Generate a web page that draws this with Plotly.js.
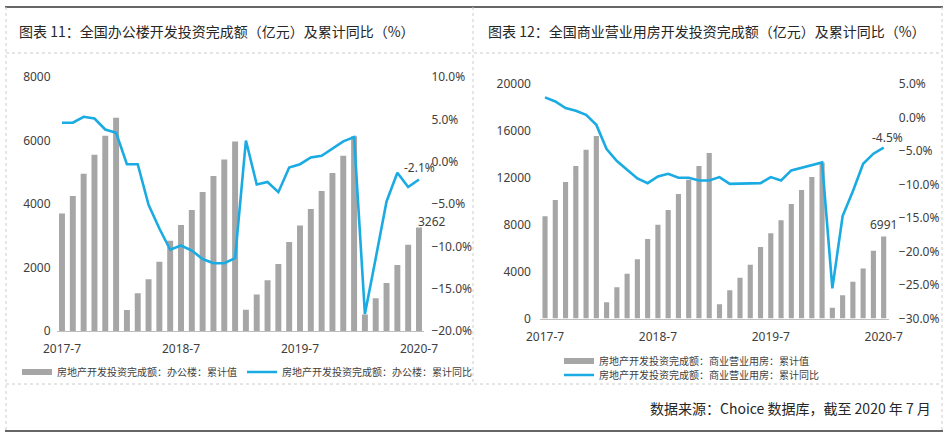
<!DOCTYPE html>
<html>
<head>
<meta charset="utf-8">
<script src="https://cdn.plot.ly/plotly-3.0.1.min.js"></script>
<style>html,body{margin:0;padding:0;background:#fff;}#chart{width:948px;height:437px;}</style>
</head>
<body>
<div id="chart"></div>
<script>
// ---- data ----
const months = ['2017-7','2017-8','2017-9','2017-10','2017-11','2017-12',
  '2018-2','2018-3','2018-4','2018-5','2018-6','2018-7','2018-8','2018-9','2018-10','2018-11','2018-12',
  '2019-2','2019-3','2019-4','2019-5','2019-6','2019-7','2019-8','2019-9','2019-10','2019-11','2019-12',
  '2020-2','2020-3','2020-4','2020-5','2020-6','2020-7'];
const xTickLabels = ['2017-7','2018-7','2019-7','2020-7'];

const officeValue = [3700,4250,4950,5550,6150,6720,
  660,1190,1630,2180,2840,3340,3810,4380,4880,5400,5970,
  670,1150,1600,2110,2800,3320,3840,4410,4980,5520,6130,
  520,1030,1510,2080,2720,3262];
const officeYoY = [4.6,4.6,5.3,5.1,3.8,3.4,
  -0.3,-0.3,-5.1,-7.9,-10.4,-9.9,-10.5,-11.5,-12.0,-12.0,-11.4,
  2.5,-2.7,-2.4,-3.6,-0.7,-0.3,0.5,0.7,1.5,2.4,2.9,
  -18.0,-11.4,-4.7,-1.3,-3.0,-2.1];

const commValue = [8730,10100,11640,13000,14400,15560,
  1390,2670,3810,5060,6770,7990,9250,10610,11840,13000,14110,
  1220,2420,3470,4580,6090,7280,8390,9760,10950,12060,13300,
  910,1990,3130,4270,5780,6991];
const commYoY = [3.0,2.4,1.4,1.0,0.4,-1.1,
  -4.7,-6.5,-7.8,-9.1,-9.8,-8.8,-8.4,-9.0,-9.0,-9.4,-9.4,
  -8.9,-9.9,-9.9,-9.8,-9.8,-8.9,-9.4,-7.9,-7.5,-7.2,-6.7,
  -25.5,-14.7,-11.0,-6.9,-5.4,-4.5];

const title1 = '图表 11：全国办公楼开发投资完成额（亿元）及累计同比（%）';
const title2 = '图表 12：全国商业营业用房开发投资完成额（亿元）及累计同比（%）';
const name1a = '房地产开发投资完成额：办公楼：累计值';
const name1b = '房地产开发投资完成额：办公楼：累计同比';
const name2a = '房地产开发投资完成额：商业营业用房：累计值';
const name2b = '房地产开发投资完成额：商业营业用房：累计同比';
const source = '数据来源：Choice 数据库，截至 2020 年 7 月';

// ---- helpers ----
const W = 948, H = 437;
const px = v => v / W;
const py = v => 1 - v / H;
const BAR = '#a6a6a6', LINE = '#1aabe3', TXT = '#404040';
const FONT = 'Noto Sans, Noto Sans CJK SC, sans-serif';
const CJK = 'Noto Sans CJK SC, sans-serif';
const last = a => a[a.length - 1];

const traces = [
  {type:'bar', x:months, y:officeValue, xaxis:'x', yaxis:'y', marker:{color:BAR}, width:0.55, showlegend:false, hoverinfo:'skip'},
  {type:'scatter', mode:'lines', x:months, y:officeYoY, xaxis:'x', yaxis:'y2', line:{color:LINE, width:2.6}, showlegend:false, hoverinfo:'skip'},
  {type:'scatter', mode:'lines', x:[null], y:[null], xaxis:'x', yaxis:'y', name:name1a, line:{color:BAR, width:6}, legend:'legend'},
  {type:'scatter', mode:'lines', x:[null], y:[null], xaxis:'x', yaxis:'y', name:name1b, line:{color:LINE, width:2.6}, legend:'legend'},

  {type:'bar', x:months, y:commValue, xaxis:'x2', yaxis:'y3', marker:{color:BAR}, width:0.5, showlegend:false, hoverinfo:'skip'},
  {type:'scatter', mode:'lines', x:months, y:commYoY, xaxis:'x2', yaxis:'y4', line:{color:LINE, width:2.6}, showlegend:false, hoverinfo:'skip'},
  {type:'scatter', mode:'lines', x:[null], y:[null], xaxis:'x2', yaxis:'y3', name:name2a, line:{color:BAR, width:6}, legend:'legend2'},
  {type:'scatter', mode:'lines', x:[null], y:[null], xaxis:'x2', yaxis:'y3', name:name2b, line:{color:LINE, width:2.6}, legend:'legend3'}
];

const tickFont = {family:FONT, size:12, color:TXT};
const xBase = {type:'category', categoryorder:'array', categoryarray:months, range:[-0.5, months.length-0.5],
  tickmode:'array', tickvals:xTickLabels, ticktext:xTickLabels, showline:true, linecolor:'#bfbfbf', linewidth:1,
  ticks:'', showgrid:false, zeroline:false, tickfont:tickFont, ticklabelstandoff:7, fixedrange:true};

const legFont = {family:CJK, size:10, color:TXT};
const legBase = {xanchor:'left', yanchor:'middle', font:legFont, bgcolor:'rgba(0,0,0,0)', itemclick:false, itemdoubleclick:false, tracegroupgap:0, traceorder:'normal'};
const dashed = {color:'#cccccc', width:1, dash:'dot'};
const layout = {
  width:W, height:H, margin:{l:0,r:0,t:0,b:0}, paper_bgcolor:'#fff', plot_bgcolor:'rgba(0,0,0,0)',
  font:{family:FONT, color:TXT}, bargap:0.45,
  xaxis: Object.assign({}, xBase, {domain:[px(56.6), px(424.4)], anchor:'y'}),
  yaxis: {domain:[py(331), py(77)], range:[0,8000], dtick:2000, tick0:0, tickformat:'d', showgrid:false, zeroline:false, ticks:'', tickfont:tickFont, anchor:'x', ticklabelstandoff:5, fixedrange:true},
  yaxis2:{overlaying:'y', side:'right', anchor:'x', range:[-20,10], dtick:5, tick0:0, tickformat:'.1f', ticksuffix:'%', showgrid:false, zeroline:false, ticks:'', tickfont:tickFont, ticklabelstandoff:6, fixedrange:true},
  xaxis2: Object.assign({}, xBase, {domain:[px(539.9), px(888.8)], anchor:'y3'}),
  yaxis3:{domain:[py(318.5), py(84)], range:[0,20000], dtick:4000, tick0:0, tickformat:'d', showgrid:false, zeroline:false, ticks:'', tickfont:tickFont, anchor:'x2', ticklabelstandoff:8, fixedrange:true},
  yaxis4:{overlaying:'y3', side:'right', anchor:'x2', range:[-30,5], dtick:5, tick0:0, tickformat:'.1f', ticksuffix:'%', showgrid:false, zeroline:false, ticks:'', tickfont:tickFont, ticklabelstandoff:9, fixedrange:true},
  legend: Object.assign({}, legBase, {orientation:'h', x:px(17), y:py(372)}),
  legend2: Object.assign({}, legBase, {orientation:'v', x:px(559), y:py(361)}),
  legend3: Object.assign({}, legBase, {orientation:'v', x:px(559), y:py(375)}),
  shapes:[
    {type:'line', xref:'paper', yref:'paper', x0:px(5), x1:px(943), y0:py(7), y1:py(7), line:{color:'#333', width:1.5}},
    {type:'line', xref:'paper', yref:'paper', x0:px(5), x1:px(943), y0:py(431), y1:py(431), line:{color:'#333', width:1.5}},
    {type:'line', xref:'paper', yref:'paper', x0:px(6), x1:px(6), y0:py(7), y1:py(431), line:dashed},
    {type:'line', xref:'paper', yref:'paper', x0:px(942), x1:px(942), y0:py(7), y1:py(431), line:dashed},
    {type:'line', xref:'paper', yref:'paper', x0:px(473), x1:px(473), y0:py(7), y1:py(384), line:dashed},
    {type:'line', xref:'paper', yref:'paper', x0:px(6), x1:px(942), y0:py(53), y1:py(53), line:dashed},
    {type:'line', xref:'paper', yref:'paper', x0:px(6), x1:px(942), y0:py(384), y1:py(384), line:dashed}
  ],
  annotations:[
    {xref:'paper', yref:'paper', x:px(17), y:py(31), xanchor:'left', yanchor:'middle', text:title1, showarrow:false, font:{family:CJK, size:14, color:'#262626'}},
    {xref:'paper', yref:'paper', x:px(486), y:py(31), xanchor:'left', yanchor:'middle', text:title2, showarrow:false, font:{family:CJK, size:14, color:'#262626'}},
    {xref:'paper', yref:'paper', x:px(933), y:py(408), xanchor:'right', yanchor:'middle', text:source, showarrow:false, font:{family:CJK, size:14, color:'#262626'}},
    {xref:'x', yref:'y', x:last(months), y:last(officeValue), text:String(last(officeValue)), showarrow:false, xanchor:'center', yanchor:'middle', xshift:13, yshift:6, font:tickFont},
    {xref:'x', yref:'y2', x:last(months), y:last(officeYoY), text:last(officeYoY).toFixed(1)+'%', showarrow:false, xanchor:'center', yanchor:'middle', xshift:1, yshift:12, font:tickFont},
    {xref:'x2', yref:'y3', x:last(months), y:last(commValue), text:String(last(commValue)), showarrow:false, xanchor:'center', yanchor:'middle', xshift:0, yshift:12, font:tickFont},
    {xref:'x2', yref:'y4', x:last(months), y:last(commYoY), text:last(commYoY).toFixed(1)+'%', showarrow:false, xanchor:'center', yanchor:'middle', xshift:4, yshift:10, font:tickFont}
  ]
};

Plotly.newPlot('chart', traces, layout, {displayModeBar:false, staticPlot:true});
</script>
</body>
</html>
